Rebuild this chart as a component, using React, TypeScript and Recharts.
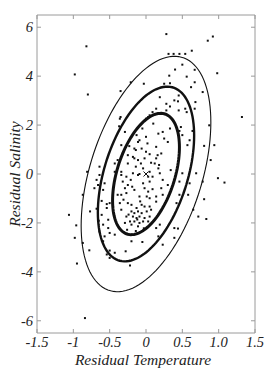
import { ScatterChart, Scatter, XAxis, YAxis, ReferenceArea, Label } from 'recharts'

const W = 266
const H = 371
const MARGIN = { top: 15, right: 11, bottom: 0, left: 0 }
const PLOT_TOP = MARGIN.top
const PLOT_RIGHT = W - MARGIN.right
const TICK_LEN = 4
const FRAME = '#9a9a9a'
const INK = '#111'
const FONT = 'Liberation Serif, serif'

// residual temperature / salinity of each sample
const RESID_TEMP = [
  -0.82, -0.98, -0.80, -0.21, -0.35, -0.35, -0.37, -0.29, -0.64, -0.68, -0.81, -0.43, -0.39, -0.25, -0.23,
  0.28, 0.92, 0.85, 0.63, 0.31, 0.38, 0.46, 0.54, 0.50, 0.40, 0.98, 0.32, 0.56, 0.67, 0.25,
  0.62, 0.78, 0.45, 0.19, 0.39, 0.68, 0.28, 0.33, 0.14, 0.54, 0.45, 0.09, 0.05, 0.00, 1.32,
  0.10, 0.48, -0.05, 0.46, 0.64, 0.23, 0.87, 0.00, 0.50, -0.09, 0.25, 0.30, 0.02, 0.57, 0.80,
  0.94, 0.14, -0.14, 0.00, 0.21, 0.16, 0.05, -0.16, 0.89, -0.07, 0.07, 0.12, 0.18, -0.14, 0.34,
  0.05, 0.50, 0.69, -0.09, 0.09, 0.99, 1.08, 0.46, -1.06, -0.96, -0.98, -0.95, -0.87, -0.78, -0.84,
  -0.87, -0.77, -0.68, -0.61, -0.65, -0.71, -0.54, -0.59, -0.52, -0.64, -0.57, -0.50, -0.59, -0.43, -0.54,
  -0.50, -0.28, -0.22, -0.34, -0.27, -0.18, -0.11, 0.03, -0.32, -0.25, -0.04, 0.05, -0.29, -0.16, -0.02,
  0.03, -0.39, -0.34, -0.27, -0.09, 0.01, 0.05, -0.36, -0.25, -0.20, -0.06, -0.13, -0.02, 0.05, -0.34,
  -0.20, -0.16, -0.11, -0.06, 0.01, 0.07, -0.27, -0.18, -0.13, -0.09, -0.02, 0.05, -0.22, -0.16, -0.09,
  -0.04, 0.03, -0.29, -0.20, -0.11, -0.52, -0.61, -0.54, -0.50, -0.59, -0.57, -0.66, -0.43, -0.36, 0.03,
  -0.13, -0.11, -0.16, -0.06, -0.32, -0.18, -0.11, -0.02, -0.25, -0.04, -0.34, -0.43, -0.64, -0.34, 0.19,
  0.23, 0.21, 0.30, 0.60, 0.78, 0.14, 0.23, 0.58, 0.80, 0.14, 0.42, 0.65, 0.72, 0.83, 0.19,
  0.39, 0.44, 0.17, 0.46, 0.14, 0.39, -0.05, 0.23, -0.20, -0.50, -0.03, 0.67, 0.33, 0.44, 0.28,
  0.56, 0.67, 0.17, 0.33, 0.60, 0.14, 0.17,
  -0.24, -0.12, -0.31, -0.08, -0.19, 0.09, -0.26, -0.14, -0.03, -0.21,
]
const RESID_SAL = [
  5.22, 4.07, 3.25, 3.75, 3.39, 2.33, 1.95, 1.72, 0.30, -0.24, 0.09, 0.43, 0.57, 0.77, 1.14,
  5.72, 5.62, 5.45, 5.04, 4.91, 4.91, 4.91, 4.91, 4.47, 4.27, 4.12, 4.02, 3.98, 3.75, 3.69,
  3.55, 3.35, 3.21, 3.14, 3.01, 2.94, 2.87, 2.76, 2.67, 2.67, 2.60, 2.53, 2.40, 2.26, 2.33,
  2.06, 1.92, 1.86, 1.76, 1.76, 1.72, 1.99, 1.52, 1.59, 1.38, 1.45, 1.31, 1.25, 1.18, 1.15,
  1.18, 1.11, 0.98, 0.91, 0.84, 0.77, 0.81, 0.64, 0.57, 0.43, 0.46, 0.43, 0.37, 0.30, 0.16,
  0.09, 0.03, 0.03, 0.00, -0.11, -0.17, -0.35, -0.31, -1.67, -2.10, -2.61, -3.66, -2.82, -3.12, -5.89,
  -0.85, -1.53, -1.42, -1.10, -1.91, -0.58, -1.23, -2.07, -2.21, -2.35, -2.55, -2.41, -2.75, -3.22, -3.29,
  -3.43, -3.16, -3.74, -0.04, -0.11, 0.03, -0.04, -0.11, -0.31, -0.45, -0.38, -0.31, -0.58, -0.65, -0.58,
  -0.72, -0.85, -0.85, -0.78, -0.92, -0.92, -0.99, -1.19, -1.19, -1.26, -1.26, -1.39, -1.33, -1.33, -1.46,
  -1.53, -1.60, -1.53, -1.60, -1.53, -1.46, -1.74, -1.74, -1.80, -1.74, -1.80, -1.74, -1.94, -1.94, -2.00,
  -1.94, -1.94, -2.00, -2.07, -2.14, -1.87, -1.67, -1.39, -1.19, -0.65, -0.38, -0.45, -2.48, 2.26, 2.33,
  1.59, 1.31, 1.04, 1.04, 0.84, 0.70, 0.57, 0.64, 0.43, 0.23, 0.09, 0.09, -0.04, 1.18, 0.03,
  -0.24, -0.58, -0.45, -0.38, -0.31, -0.92, -0.85, -0.85, -1.03, -1.13, -1.19, -1.46, -1.74, -1.84, -2.07,
  -2.21, -2.23, -2.55, -0.85, -2.21, -2.61, -2.78, -2.89, -2.75, -3.13, 3.69, 4.26, 3.71, 2.97, 2.60,
  2.53, 2.67, 1.65, 1.86, 1.38, 0.64, 0.23,
  -1.66, -1.86, -1.05, -1.12, -0.52, -0.62, -2.28, -2.33, -2.22, -0.24,
]
const CENTER_TEMP = [0]
const CENTER_SAL = [0]

const X_TICKS = [-1.5, -1, -0.5, 0, 0.5, 1, 1.5]
const X_TICK_LABELS = ['-1.5', '-1', '-0.5', '0', '0.5', '1.0', '1.5']
const Y_TICKS = [-6, -4, -2, 0, 2, 4, 6]

// fitted distribution and contour levels (in units of the spread)
const SIGMA_TEMP = 0.46
const SIGMA_SAL = 2.48
const CORR = 0.44
const LEVELS = [1, 1.44, 1.94]
const LEVEL_WIDTHS = [3, 2.4, 1.1]

const samples = RESID_TEMP.map((x, i) => ({ x, y: RESID_SAL[i] }))
const center = CENTER_TEMP.map((x, i) => ({ x, y: CENTER_SAL[i] }))

function ellipse(k: number) {
  const pts: { x: number; y: number }[] = []
  const s = Math.sqrt(1 - CORR * CORR)
  for (let deg = 0; deg <= 360; deg += 3) {
    const t = (deg * Math.PI) / 180
    pts.push({
      x: CENTER_TEMP[0] + k * SIGMA_TEMP * Math.cos(t),
      y: CENTER_SAL[0] + k * SIGMA_SAL * (CORR * Math.cos(t) + s * Math.sin(t)),
    })
  }
  return pts
}

const textStyle = { fontFamily: FONT, fontStyle: 'italic' as const, fontSize: 14.5, fill: '#222' }

function BottomTick(props: any) {
  const { x, y, payload } = props
  const label = X_TICK_LABELS[X_TICKS.indexOf(payload.value)]
  return (
    <g>
      <line x1={x} y1={y} x2={x} y2={y - TICK_LEN} stroke={FRAME} />
      <line x1={x} y1={PLOT_TOP} x2={x} y2={PLOT_TOP + TICK_LEN} stroke={FRAME} />
      <text x={x} y={y + 14} textAnchor="middle" style={textStyle}>{label}</text>
    </g>
  )
}

function LeftTick(props: any) {
  const { x, y, payload } = props
  return (
    <g>
      <line x1={x} y1={y} x2={x + TICK_LEN} y2={y} stroke={FRAME} />
      <line x1={PLOT_RIGHT} y1={y} x2={PLOT_RIGHT - TICK_LEN} y2={y} stroke={FRAME} />
      <text x={x - 4} y={y + 5} textAnchor="end" style={textStyle}>{payload.value}</text>
    </g>
  )
}

export default function App() {
  return (
    <div style={{ position: 'absolute', left: 0, top: 0, width: W, height: H, background: '#fff' }}>
      <ScatterChart width={W} height={H} margin={MARGIN}>
        <XAxis
          type="number"
          dataKey="x"
          domain={[-1.5, 1.5]}
          ticks={X_TICKS}
          interval={0}
          allowDataOverflow
          height={38}
          axisLine={false}
          tickLine={false}
          tickSize={0}
          tickMargin={0}
          tick={(p: any) => <BottomTick {...p} />}
        >
          <Label
            value="Residual Temperature"
            position="insideBottom"
            offset={6}
            dx={-3}
            style={{ fontFamily: FONT, fontStyle: 'italic', fontSize: 15.5, fill: '#222' }}
          />
        </XAxis>
        <YAxis
          type="number"
          dataKey="y"
          domain={[-6.5, 6.5]}
          ticks={Y_TICKS}
          interval={0}
          allowDataOverflow
          width={37}
          axisLine={false}
          tickLine={false}
          tickSize={0}
          tickMargin={0}
          tick={(p: any) => <LeftTick {...p} />}
        >
          <Label
            value="Residual Salinity"
            position="insideLeft"
            angle={-90}
            offset={12}
            dx={2}
            style={{ textAnchor: 'middle', fontFamily: FONT, fontStyle: 'italic', fontSize: 15.5, fill: '#222' }}
          />
        </YAxis>
        <ReferenceArea x1={-1.5} x2={1.5} y1={-6.5} y2={6.5} fill="none" stroke={FRAME} strokeWidth={1} ifOverflow="visible" />
        {LEVELS.map((k, i) => (
          <Scatter
            key={k}
            data={ellipse(k)}
            line={{ stroke: INK, strokeWidth: LEVEL_WIDTHS[i], fill: 'none' }}
            lineType="joint"
            shape={() => <g />}
            isAnimationActive={false}
          />
        ))}
        <Scatter
          data={samples}
          shape={(p: any) => <rect x={p.cx - 1} y={p.cy - 1} width={2} height={2} fill={INK} />}
          isAnimationActive={false}
        />
        <Scatter
          data={center}
          shape={(p: any) => (
            <path d={`M${p.cx - 2.5},${p.cy - 2.5}L${p.cx + 2.5},${p.cy + 2.5}M${p.cx - 2.5},${p.cy + 2.5}L${p.cx + 2.5},${p.cy - 2.5}`} stroke={INK} strokeWidth={1} />
          )}
          isAnimationActive={false}
        />
      </ScatterChart>
    </div>
  )
}
